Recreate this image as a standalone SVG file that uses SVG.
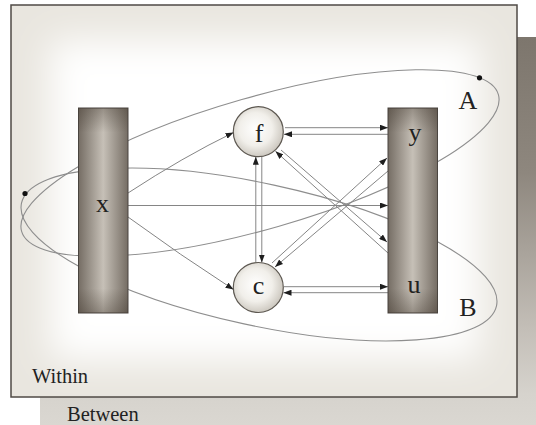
<svg xmlns="http://www.w3.org/2000/svg" width="536" height="425" viewBox="0 0 536 425">
<style>
.lbl{font-family:"Liberation Serif","Times New Roman",serif;fill:#222;text-anchor:middle;font-size:26px}
.note{font-family:"Liberation Serif","Times New Roman",serif;fill:#222;font-size:20.5px}
.con{stroke:#858585;stroke-width:1;fill:none}
.arr{marker-end:url(#ah)}
.ell{stroke:#8e8e8e;stroke-width:1.1;fill:none}
.box{stroke:#4a4540;stroke-width:1}
.circ{fill:url(#cg);stroke:#5d5851;stroke-width:1.2}
</style>
<defs>
<linearGradient id="back" x1="0" y1="0" x2="0" y2="1">
<stop offset="0" stop-color="#7d766d"/>
<stop offset="0.35" stop-color="#8e877e"/>
<stop offset="0.75" stop-color="#c3beb7"/>
<stop offset="0.92" stop-color="#d6d3cd"/>
<stop offset="1" stop-color="#dad7d1"/>
</linearGradient>
<linearGradient id="boxh" x1="0" y1="0" x2="1" y2="0">
<stop offset="0" stop-color="#756d64"/>
<stop offset="0.5" stop-color="#c6c0b7"/>
<stop offset="1" stop-color="#756d64"/>
</linearGradient>
<linearGradient id="boxv" x1="0" y1="0" x2="0" y2="1">
<stop offset="0" stop-color="#3c3228" stop-opacity="0.35"/>
<stop offset="0.12" stop-color="#3c3228" stop-opacity="0"/>
<stop offset="0.88" stop-color="#3c3228" stop-opacity="0"/>
<stop offset="1" stop-color="#3c3228" stop-opacity="0.35"/>
</linearGradient>
<radialGradient id="cg" cx="0.45" cy="0.45" r="0.6">
<stop offset="0" stop-color="#ffffff"/>
<stop offset="0.55" stop-color="#f1efea"/>
<stop offset="1" stop-color="#c6c1b8"/>
</radialGradient>
<filter id="blur" x="-20%" y="-20%" width="140%" height="140%">
<feGaussianBlur stdDeviation="18"/>
</filter>
<clipPath id="pclip"><rect x="11" y="5" width="506" height="392"/></clipPath>
<marker id="ah" viewBox="0 0 8 6" refX="8" refY="3" markerWidth="8" markerHeight="6" markerUnits="userSpaceOnUse" orient="auto">
<path d="M0,0 L8,3 L0,6 z" fill="#1e1e1e"/>
</marker>
</defs>
<rect width="536" height="425" fill="#ffffff"/>
<g id="between-panel">
<rect x="40" y="37" width="496" height="388" fill="url(#back)"/>
<text class="note" x="67" y="421">Between</text>
</g>
<g id="within-panel">
<rect x="11" y="5" width="506" height="392" fill="#e9e6df"/>
<g clip-path="url(#pclip)">
<rect x="50" y="40" width="430" height="320" fill="#ffffff" filter="url(#blur)"/>
</g>
<rect x="11" y="5" width="506" height="392" fill="none" stroke="#4f4a45" stroke-width="1.5"/>
<text class="note" x="32" y="383">Within</text>
</g>
<g id="ellipse-A">
<ellipse class="ell" cx="260" cy="163" rx="248" ry="66" transform="rotate(-16 260 163)"/>
<circle cx="479.5" cy="77.8" r="2.6" fill="#111"/>
<text class="lbl" x="468" y="109">A</text>
</g>
<g id="ellipse-B">
<ellipse class="ell" cx="259" cy="254.5" rx="243" ry="71" transform="rotate(12.2 259 254.5)"/>
<circle cx="25" cy="193.5" r="2.6" fill="#111"/>
<text class="lbl" x="468" y="316">B</text>
</g>
<g id="connectors">
<path class="con arr" d="M128,193 Q183,157 233.5,132.5"/>
<path class="con arr" d="M128,217 Q180,255 233.5,289.5"/>
<path class="con arr" d="M128,205.5 L388,205.5"/>
<path class="con arr" d="M285,127.7 L388,127.7"/>
<path class="con arr" d="M388,134.3 L284,134.3"/>
<path class="con arr" d="M284,286.7 L388,286.7"/>
<path class="con arr" d="M388,292.7 L283.5,292.7"/>
<path class="con arr" d="M255.8,262.5 L255.8,156.8"/>
<path class="con arr" d="M261.8,156.5 L261.8,262.5"/>
<path class="con arr" d="M281,150 L387,242"/>
<path class="con arr" d="M388,253 L275.5,151.3"/>
<path class="con arr" d="M272,263 L387,158"/>
<path class="con arr" d="M388,171 L275,267"/>
</g>
<g id="node-x">
<rect class="box" x="78.5" y="108" width="49.5" height="205" fill="url(#boxh)"/>
<rect x="78.5" y="108" width="49.5" height="205" fill="url(#boxv)"/>
<text class="lbl" x="102.5" y="212">x</text>
</g>
<g id="node-yu">
<rect class="box" x="388" y="108" width="49.5" height="205" fill="url(#boxh)"/>
<rect x="388" y="108" width="49.5" height="205" fill="url(#boxv)"/>
<text class="lbl" x="415" y="141">y</text>
<text class="lbl" x="414" y="293">u</text>
</g>
<g id="node-f">
<circle class="circ" cx="258.3" cy="131.7" r="25"/>
<text class="lbl" x="259" y="142">f</text>
</g>
<g id="node-c">
<circle class="circ" cx="258.3" cy="287.5" r="25"/>
<text class="lbl" x="258.5" y="294">c</text>
</g>
</svg>
